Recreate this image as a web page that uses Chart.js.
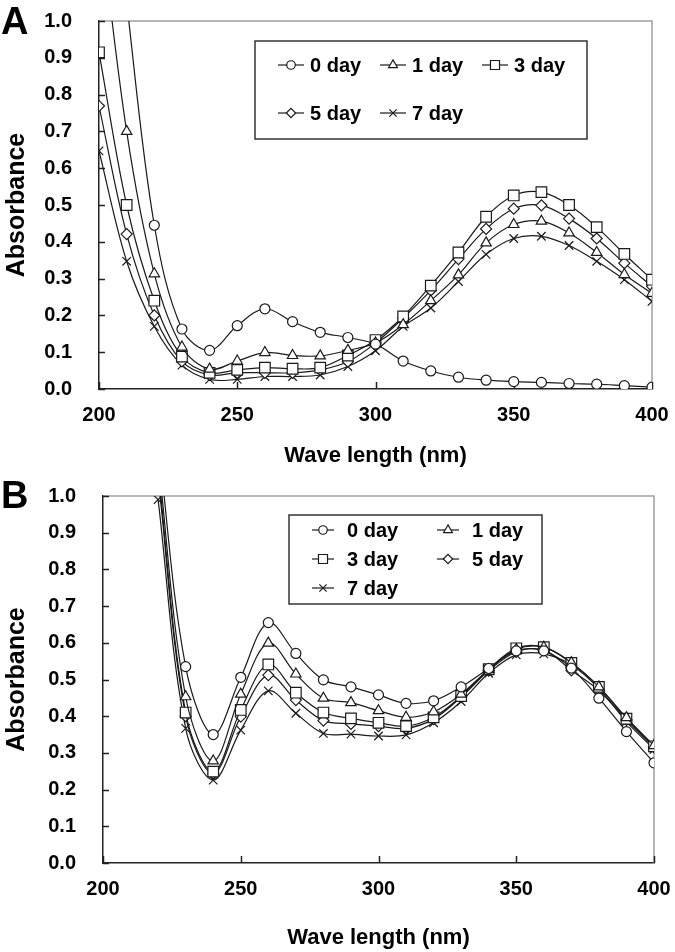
<!DOCTYPE html>
<html>
<head>
<meta charset="utf-8">
<script src="https://cdn.jsdelivr.net/npm/chart.js@4.4.1/dist/chart.umd.min.js"></script>
<style>
  html, body { margin: 0; padding: 0; background: #fff; }
  .panel { position: relative; width: 675px; }
  #panelA { height: 470px; }
  #panelB { height: 482px; }
</style>
</head>
<body>
<div class="panel" id="panelA"><canvas id="chartA"></canvas></div>
<div class="panel" id="panelB"><canvas id="chartB"></canvas></div>
<script>
// wavelengths (nm)
const wavelengths = [200, 210, 220, 230, 240, 250, 260, 270, 280, 290, 300, 310, 320, 330, 340, 350, 360, 370, 380, 390, 400];
const seriesNames = ['0 day', '1 day', '3 day', '5 day', '7 day'];
const yTicks = [0.0, 0.1, 0.2, 0.3, 0.4, 0.5, 0.6, 0.7, 0.8, 0.9, 1.0];
const xTicks = [200, 250, 300, 350, 400];

// panel A
const a0day = [1.70, 1.05, 0.445, 0.163, 0.105, 0.172, 0.218, 0.183, 0.154, 0.140, 0.122, 0.076, 0.049, 0.032, 0.024, 0.020, 0.018, 0.015, 0.013, 0.009, 0.005];
const a1day = [1.30, 0.70, 0.313, 0.114, 0.054, 0.076, 0.099, 0.091, 0.090, 0.105, 0.125, 0.175, 0.240, 0.310, 0.397, 0.447, 0.456, 0.424, 0.371, 0.311, 0.260];
const a3day = [0.915, 0.50, 0.240, 0.088, 0.044, 0.052, 0.058, 0.055, 0.058, 0.091, 0.133, 0.197, 0.281, 0.371, 0.468, 0.526, 0.535, 0.500, 0.440, 0.367, 0.297];
const a5day = [0.769, 0.421, 0.200, 0.075, 0.038, 0.044, 0.044, 0.044, 0.052, 0.074, 0.125, 0.193, 0.268, 0.353, 0.435, 0.490, 0.499, 0.463, 0.409, 0.342, 0.279];
const a7day = [0.647, 0.347, 0.170, 0.065, 0.026, 0.026, 0.034, 0.034, 0.038, 0.061, 0.104, 0.170, 0.220, 0.292, 0.366, 0.409, 0.415, 0.390, 0.347, 0.297, 0.238];

// panel B (no readings below 220 nm)
const b0day = [null, null, 1.15, 0.535, 0.350, 0.506, 0.655, 0.571, 0.499, 0.480, 0.458, 0.435, 0.442, 0.480, 0.530, 0.578, 0.578, 0.531, 0.449, 0.358, 0.273];
const b1day = [null, null, 1.10, 0.453, 0.278, 0.460, 0.599, 0.515, 0.449, 0.437, 0.415, 0.397, 0.412, 0.460, 0.527, 0.582, 0.588, 0.546, 0.480, 0.396, 0.320];
const b3day = [null, null, 1.07, 0.410, 0.249, 0.417, 0.541, 0.464, 0.410, 0.394, 0.382, 0.373, 0.397, 0.455, 0.528, 0.585, 0.588, 0.545, 0.480, 0.393, 0.318];
const b5day = [null, null, 1.05, 0.400, 0.244, 0.399, 0.512, 0.444, 0.388, 0.379, 0.373, 0.367, 0.392, 0.452, 0.524, 0.575, 0.580, 0.525, 0.470, 0.390, 0.315];
const b7day = [null, null, 0.99, 0.367, 0.226, 0.362, 0.469, 0.408, 0.353, 0.351, 0.346, 0.349, 0.382, 0.440, 0.517, 0.567, 0.570, 0.540, 0.475, 0.385, 0.310];

const markers = [
  { style: 'circle', radius: 5 },
  { style: 'triangle', radius: 6 },
  { style: 'rect', radius: 7.5 },
  { style: 'rectRot', radius: 5.5 },
  { style: 'crossRot', radius: 6 }
];

Chart.defaults.font.family = '"Liberation Sans", Arial, sans-serif';
Chart.defaults.font.size = 20;
Chart.defaults.font.weight = 'bold';
Chart.defaults.color = '#000';

function toPoints(vals) {
  const pts = [];
  wavelengths.forEach((w, i) => { if (vals[i] !== null) pts.push({ x: w, y: vals[i] }); });
  return pts;
}

function makeDatasets(list) {
  return list.map((vals, i) => ({
    label: seriesNames[i],
    data: toPoints(vals),
    borderColor: '#1a1a1a',
    borderWidth: 1.2,
    tension: 0.35,
    pointStyle: markers[i].style,
    pointRadius: markers[i].radius,
    pointBackgroundColor: '#fff',
    pointBorderColor: '#1a1a1a',
    pointBorderWidth: 1.2,
    fill: false
  }));
}

// frame, inward ticks, legend box, panel letter
const decor = {
  id: 'decor',
  beforeDatasetsDraw(chart, args, o) {
    const ctx = chart.ctx, a = chart.chartArea;
    const xs = chart.scales.x, ys = chart.scales.y;
    ctx.save();
    ctx.strokeStyle = '#a0a0a0';
    ctx.lineWidth = 1.5;
    ctx.beginPath();
    ctx.moveTo(a.left, a.top); ctx.lineTo(a.right, a.top); ctx.lineTo(a.right, a.bottom);
    ctx.stroke();
    ctx.strokeStyle = '#222';
    ctx.lineWidth = 1.5;
    ctx.beginPath();
    yTicks.forEach(v => {
      const py = Math.round(ys.getPixelForValue(v)) + 0.5;
      ctx.moveTo(a.left, py); ctx.lineTo(a.left + 6, py);
    });
    xTicks.forEach(v => {
      const px = Math.round(xs.getPixelForValue(v)) + 0.5;
      ctx.moveTo(px, a.bottom); ctx.lineTo(px, a.bottom - 7);
    });
    ctx.stroke();
    ctx.restore();
  },
  afterDraw(chart, args, o) {
    const ctx = chart.ctx;
    ctx.save();
    // legend
    const b = o.box;
    ctx.fillStyle = '#fff';
    ctx.fillRect(b.x, b.y, b.w, b.h);
    ctx.strokeStyle = '#333';
    ctx.lineWidth = 1.5;
    ctx.strokeRect(b.x, b.y, b.w, b.h);
    ctx.font = 'bold 20px "Liberation Sans", Arial, sans-serif';
    ctx.textBaseline = 'middle';
    o.items.forEach(it => {
      const ds = chart.data.datasets[it.ds];
      const x0 = o.cols[it.col], y0 = o.rows[it.row];
      ctx.strokeStyle = '#1a1a1a';
      ctx.lineWidth = 1.2;
      ctx.beginPath();
      ctx.moveTo(x0, y0); ctx.lineTo(x0 + o.lineLen, y0);
      ctx.stroke();
      ctx.fillStyle = '#fff';
      ctx.strokeStyle = '#1a1a1a';
      ctx.lineWidth = 1.2;
      Chart.helpers.drawPoint(ctx, { pointStyle: ds.pointStyle, radius: ds.pointRadius * 0.85, borderWidth: 1.2, rotation: 0 }, x0 + o.lineLen / 2, y0);
      ctx.fillStyle = '#000';
      ctx.fillText(ds.label, x0 + o.textOff, y0 + 1);
    });
    // panel letter
    ctx.font = 'bold 38px "Liberation Sans", Arial, sans-serif';
    ctx.fillStyle = '#000';
    ctx.textBaseline = 'alphabetic';
    ctx.fillText(o.letter, o.letterX, o.letterY);
    ctx.restore();
  }
};

function makeChart(id, lists, yWidth, xHeight, pad, legendOpts) {
  return new Chart(document.getElementById(id), {
    type: 'line',
    data: { datasets: makeDatasets(lists) },
    plugins: [decor],
    options: {
      responsive: true,
      maintainAspectRatio: false,
      animation: false,
      devicePixelRatio: 1,
      layout: { padding: pad },
      plugins: {
        legend: { display: false },
        tooltip: { enabled: false },
        decor: legendOpts
      },
      scales: {
        x: {
          type: 'linear', min: 200, max: 400,
          afterFit: s => { s.height = xHeight; s.paddingLeft = 0; s.paddingRight = 0; },
          afterBuildTicks: s => { s.ticks = xTicks.map(v => ({ value: v })); },
          grid: { display: false, drawTicks: false },
          border: { display: true, color: '#222', width: 1.5 },
          ticks: { padding: 14, font: { size: 20, weight: 'bold' } },
          title: { display: true, text: 'Wave length (nm)', font: { size: 22, weight: 'bold' }, padding: { top: 0, bottom: 1 } }
        },
        y: {
          min: 0, max: 1,
          afterFit: s => { s.width = yWidth; s.paddingTop = 0; s.paddingBottom = 0; },
          afterBuildTicks: s => { s.ticks = yTicks.map(v => ({ value: v })); },
          grid: { display: false, drawTicks: false },
          border: { display: true, color: '#222', width: 1.5 },
          ticks: { padding: 27, font: { size: 20, weight: 'bold' }, callback: v => v.toFixed(1) },
          title: { display: true, text: 'Absorbance', font: { size: 25, weight: 'bold' }, padding: { top: 2, bottom: 0 } }
        }
      }
    }
  });
}

makeChart('chartA', [a0day, a1day, a3day, a5day, a7day], 99, 81,
  { top: 21, right: 23, left: 0, bottom: 0 },
  {
    box: { x: 255, y: 41, w: 332, h: 98 },
    cols: [278, 380, 482], rows: [65, 113], lineLen: 26, textOff: 32,
    items: [{ ds: 0, col: 0, row: 0 }, { ds: 1, col: 1, row: 0 }, { ds: 2, col: 2, row: 0 },
            { ds: 3, col: 0, row: 1 }, { ds: 4, col: 1, row: 1 }],
    letter: 'A', letterX: 1, letterY: 34
  });

makeChart('chartB', [b0day, b1day, b3day, b5day, b7day], 103, 89,
  { top: 26, right: 21, left: 0, bottom: 0 },
  {
    box: { x: 289, y: 45, w: 253, h: 89 },
    cols: [312, 437], rows: [60, 89, 118], lineLen: 22, textOff: 35,
    items: [{ ds: 0, col: 0, row: 0 }, { ds: 1, col: 1, row: 0 }, { ds: 2, col: 0, row: 1 },
            { ds: 3, col: 1, row: 1 }, { ds: 4, col: 0, row: 2 }],
    letter: 'B', letterX: 1, letterY: 38
  });
</script>
</body>
</html>
